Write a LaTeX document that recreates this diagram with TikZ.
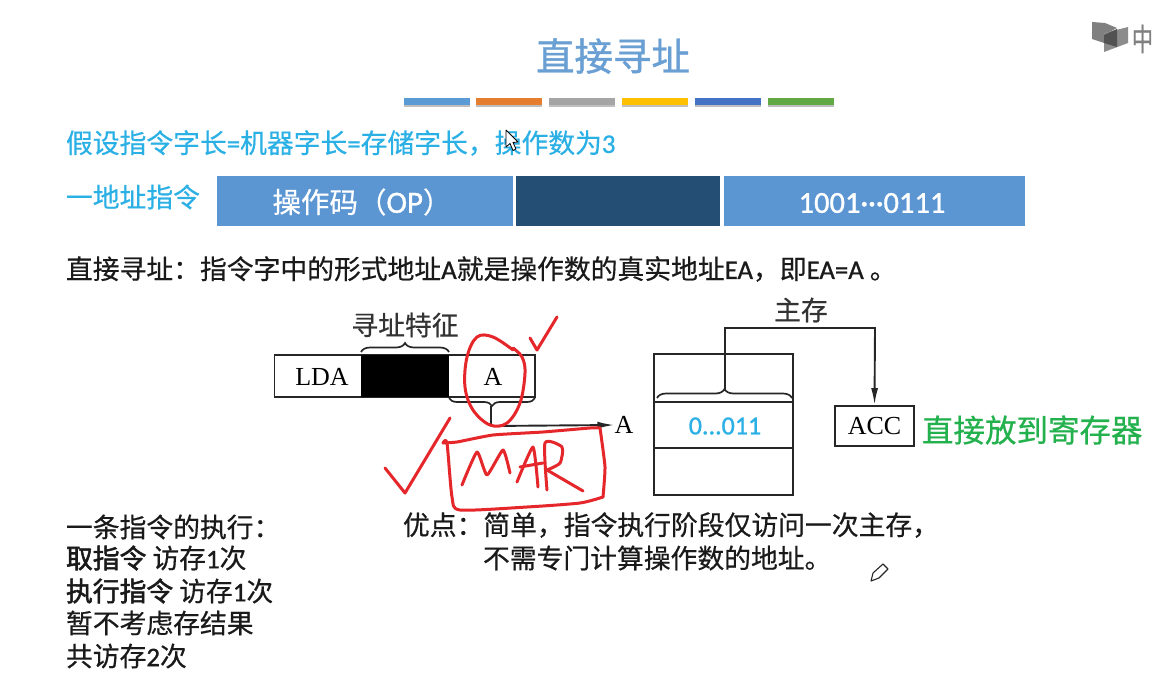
\documentclass[tikz,border=0pt]{standalone}
\usepackage{fontspec}
\usetikzlibrary{decorations.pathreplacing,arrows.meta}
\setmainfont[FakeBold=0.5]{Noto Sans CJK SC}
\newfontfamily\latinserif{Liberation Serif}
\newfontfamily\latn[FakeBold=1]{Carlito}
\newfontfamily\titlefont[FakeBold=1]{Noto Sans CJK SC}
\newfontfamily\heavy[FakeBold=2]{Noto Sans CJK SC}
\definecolor{titleblue}{HTML}{6A9FD4}
\definecolor{skyblue}{HTML}{2BB0E6}
\definecolor{opblue}{HTML}{5B96D3}
\definecolor{opdark}{HTML}{254E74}
\definecolor{markred}{HTML}{E5262A}
\definecolor{greentext}{HTML}{22B14C}
\definecolor{labelgray}{HTML}{333333}
\definecolor{bodytext}{HTML}{1A1A1A}
\tikzset{
  txt/.style={inner sep=0pt,outer sep=0pt,font=\fontsize{26.8}{30}\selectfont,text=bodytext},
  bluetxt/.style={txt,text=skyblue},
  serif/.style={inner sep=0pt,font=\latinserif\fontsize{26}{28}\selectfont,text=black},
  seglabel/.style={inner sep=0pt,text=white},
  bar/.style={draw=none,minimum height=50pt,inner sep=0pt},
  deco/.style={draw=none,minimum height=7pt,inner sep=0pt,minimum width=66pt},
  frame/.style={draw=black!85,line width=1.9pt},
  conn/.style={draw=black!85,line width=1.9pt},
  bracetop/.style={draw=black!85,line width=1.7pt,decorate,decoration={brace,amplitude=9pt}},
  bracelow/.style={draw=black!85,line width=1.7pt,decorate,decoration={brace,mirror,amplitude=8pt}},
  ink/.style={draw=markred,line width=3pt,line cap=round,line join=round}
}
\begin{document}
\begin{tikzpicture}[x=1pt,y=-1pt]
\useasboundingbox (0,0) rectangle (1153,698);
\fill[white] (0,0) rectangle (1153,698);
% title
\node[txt,text=titleblue,font=\titlefont\fontsize{38.5}{42}\selectfont] (title) at (613,56) {直接寻址};
\foreach \n/\x/\c in {a/437/5B9BD5,b/509/E67E30,c/582/A5A5A5,d/655/FFC000,e/728/4472C4,f/801/62A845}{
  \definecolor{tmpc}{HTML}{\c}
  \fill[black!25] (\x-33,100) rectangle (\x+33,107);
  \node[deco,fill=tmpc] (deco\n) at (\x,101.5) {};
}
% logo
\fill[black!50] (1092,22) -- (1105,23) -- (1117,28) -- (1104,35) -- (1104,43) -- (1092,39) -- cycle;
\fill[black!45] (1104,33) -- (1128,27) -- (1128,43) -- (1104,52) -- cycle;
\fill[black!68] (1104,35) -- (1117,29) -- (1117,47) -- (1104,43) -- cycle;
\node[txt,text=black!50,font=\fontsize{31}{31}\selectfont,xscale=0.68] (logotext) at (1142.5,39) {中};
% assumption line
\node[bluetxt,anchor=west] (assume) at (66,143) {假设指令字长{\latn =}机器字长{\latn =}存储字长，操作数为{\latn 3}};
% instruction format
\node[bluetxt,anchor=west] (oneaddr) at (66,197) {一地址指令};
\node[bar,fill=opblue,minimum width=296pt] (op) at (365,201) {};
\node[bar,fill=opdark,minimum width=204pt] (mode) at (618,201) {};
\node[bar,fill=opblue,minimum width=301pt] (addr) at (874.5,201) {};
\node[seglabel,font=\fontsize{28.5}{30}\selectfont] (optxt) at (362,202) {操作码（{\latn\fontsize{31}{30}\selectfont OP}）};
\node[seglabel,font=\latn\fontsize{30.5}{30}\selectfont] (addrtxt) at (872,203) {1001···0111};
% definition
\node[txt,anchor=west] (def) at (66,269) {直接寻址：指令字中的形式地址{\latn A}就是操作数的真实地址{\latn EA}，即{\latn EA=A} 。};
% left instruction
\draw[frame] (274.5,355) rectangle (535,397);
\fill[black] (361,355) rectangle (449,397);
\node[serif] (lda) at (322,377) {LDA};
\node[serif] (afield) at (493,377) {A};
\node[txt,text=labelgray] (feature) at (405,325) {寻址特征};
\draw[bracetop] (361,352) -- (449,352);
\draw[bracelow] (449,398) -- (535,398);
\coordinate (abrace) at (490.7,406);
\coordinate (acorner) at (490.7,426);
\node[serif] (alabel) at (624,425) {A};
\draw[conn] (abrace) -- (acorner);
\draw[conn,-{Latex[length=17pt,width=7pt]}] (acorner) -- (alabel.west);
% memory
\draw[frame] (654,354) rectangle (793,495);
\draw[frame] (654,402) -- (793,402);
\draw[frame] (654,448) -- (793,448);
\node[bluetxt,font=\latn\fontsize{26}{28}\selectfont] (mem) at (725,426) {0...011};
\node[txt,text=labelgray] (main) at (801,310) {主存};
\draw[bracetop] (657,398) -- (792,398);
\coordinate (mbrace) at (725,389);
\node[frame,minimum width=79pt,minimum height=40pt,inner sep=0pt,font=\latinserif\fontsize{26}{28}\selectfont] (acc) at (874.5,426) {ACC};
\draw[conn,-{Latex[length=17pt,width=7pt]}] (mbrace) -- (725,328) -- (875,328) -- (acc.north);
\node[txt,text=greentext,font=\fontsize{31.5}{34}\selectfont,anchor=west] (direct) at (922,430) {直接放到寄存器};
% bottom left
\node[txt,anchor=west] (l1) at (66,527) {一条指令的执行：};
\node[txt,anchor=west] (l2) at (66,558) {{\heavy 取指令} 访存{\latn 1}次};
\node[txt,anchor=west] (l3) at (66,591) {{\heavy 执行指令} 访存{\latn 1}次};
\node[txt,anchor=west] (l4) at (66,623) {暂不考虑存结果};
\node[txt,anchor=west] (l5) at (66,656) {共访存{\latn 2}次};
% bottom right
\node[txt,anchor=west] (r1) at (403,525) {优点：简单，指令执行阶段仅访问一次主存，};
\node[txt,anchor=west] (r2) at (483,558) {不需专门计算操作数的地址。};
% handwriting
\draw[ink] plot[smooth,tension=0.6] coordinates {(513,350)(493,337)(477,337)(467,357)(465,387)(473,410)(490,425)(507,423)(520,403)(525,373)(522,357)(513,348)};
\draw[ink] (530,338) -- (537,350) -- (557,317);
\draw[ink] (385,468) -- (405,493) -- (450,418);
\draw[ink] plot[smooth,tension=0.3] coordinates {(443,443)(457,442)(493,435)(543,432)(590,428)(600,428)};
\draw[ink] plot[smooth,tension=0.3] coordinates {(600,428)(605,467)(603,497)};
\draw[ink] plot[smooth,tension=0.4] coordinates {(603,497)(580,503)(527,507)(460,510)(452,497)(447,443)(443,443)};
\draw[ink] plot[smooth,tension=0.3] coordinates {(462,485)(477,452)(487,475)(503,450)(510,473)};
\draw[ink] plot[tension=0.3,smooth] coordinates {(517,482)(533,447)(538,487)};
\draw[ink] (520,467) -- (543,463);
\draw[ink] plot[smooth,tension=0.4] coordinates {(547,490)(545,443)(562,447)(560,463)(547,470)};
\draw[ink] (547,470) -- (583,491);
% cursor
\draw[black,fill=white,line width=0.8pt,line join=round] (506,130) -- (506,147) -- (510,143.5) -- (513,150.5) -- (516,149) -- (513,142.5) -- (518,142) -- cycle;
% pencil
\draw[black!85,fill=white,line width=1.1pt,line join=round] (871,581) -- (873,573) -- (883,564) -- (888,569) -- (879,578) -- cycle;
\end{tikzpicture}
\end{document}
